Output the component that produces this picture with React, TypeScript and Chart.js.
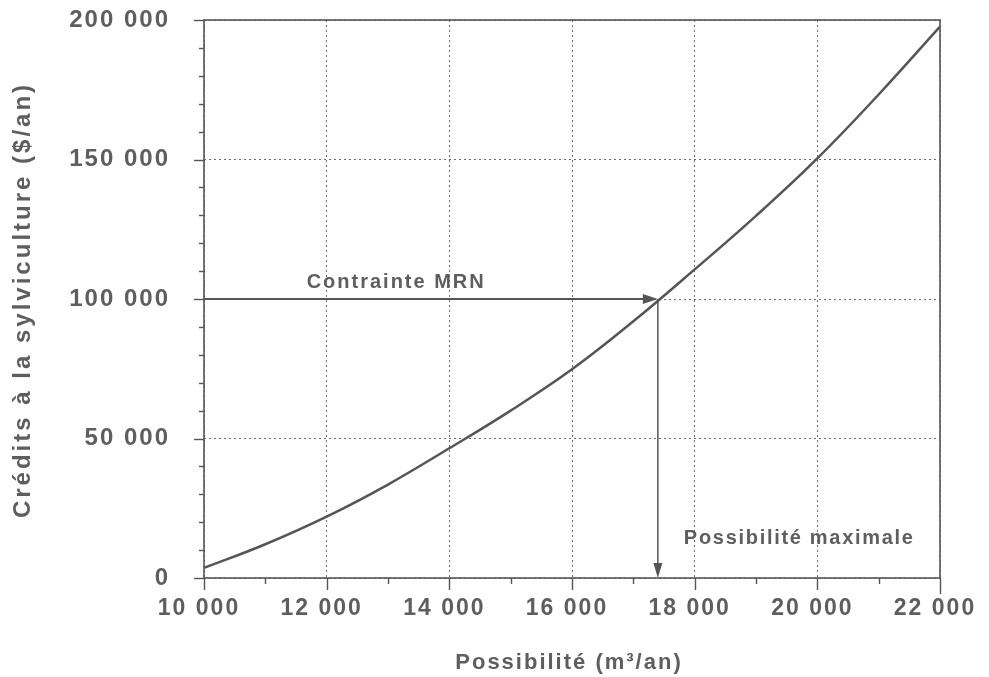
import React, { useEffect, useRef } from "react";
import { Chart, registerables } from "chart.js";

Chart.register(...registerables);

// ---- data ----
const possibilite = [10000, 11000, 12000, 13000, 14000, 15000, 16000, 17000, 18000, 19000, 20000, 21000, 22000];
const credits = [3600, 12100, 22000, 33500, 46500, 60000, 74800, 92000, 110600, 129800, 150400, 173300, 197600];
const xTickLabels = ["10 000", "12 000", "14 000", "16 000", "18 000", "20 000", "22 000"];
const yTickLabels = ["0", "50 000", "100 000", "150 000", "200 000"];
const contrainteMRN = 100000;
const possibiliteMax = 17400;
const xTitle = "Possibilité (m³/an)";
const yTitle = "Crédits à la sylviculture ($/an)";
const labelContrainte = "Contrainte MRN";
const labelMax = "Possibilité maximale";

const INK = "#555555";
const TEXT = "#5e5e5e";
const FONT = "'Liberation Sans', Arial, sans-serif";

const decorPlugin = {
  id: "decor",
  beforeLayout(chart: any) {
    chart.ctx.letterSpacing = "2px";
  },
  beforeDraw(chart: any) {
    chart.ctx.letterSpacing = "2px";
  },
  afterDraw(chart: any) {
    const { ctx, chartArea, scales } = chart;
    const { left, right, top, bottom } = chartArea;
    const x = scales.x;
    const y = scales.y;
    ctx.save();
    ctx.strokeStyle = INK;
    ctx.fillStyle = INK;
    ctx.setLineDash([]);
    // frame
    ctx.lineWidth = 1.6;
    ctx.strokeRect(left, top, right - left, bottom - top);
    // y ticks (major + minor)
    ctx.lineWidth = 1.4;
    for (let v = y.min; v <= y.max; v += 10000) {
      const py = Math.round(y.getPixelForValue(v)) + 0.5;
      const len = v % 50000 === 0 ? 10 : 5;
      ctx.beginPath();
      ctx.moveTo(left - len, py);
      ctx.lineTo(left, py);
      ctx.stroke();
    }
    // x ticks (major + minor)
    for (let v = x.min; v <= x.max; v += 1000) {
      const px = Math.round(x.getPixelForValue(v)) + 0.5;
      const len = v % 2000 === 0 ? (v === x.max ? 16 : 12) : 6;
      ctx.beginPath();
      ctx.moveTo(px, bottom);
      ctx.lineTo(px, bottom + len);
      ctx.stroke();
    }
    // arrows
    const ax0 = x.getPixelForValue(x.min);
    const ax1 = x.getPixelForValue(possibiliteMax);
    const ay = y.getPixelForValue(contrainteMRN);
    const ay1 = y.getPixelForValue(0);
    ctx.lineWidth = 2;
    ctx.beginPath();
    ctx.moveTo(ax0, ay);
    ctx.lineTo(ax1 - 12, ay);
    ctx.stroke();
    ctx.beginPath();
    ctx.moveTo(ax1, ay);
    ctx.lineTo(ax1 - 15, ay - 5);
    ctx.lineTo(ax1 - 15, ay + 5);
    ctx.closePath();
    ctx.fill();
    ctx.lineWidth = 1.5;
    ctx.beginPath();
    ctx.moveTo(ax1, ay);
    ctx.lineTo(ax1, ay1 - 12);
    ctx.stroke();
    ctx.beginPath();
    ctx.moveTo(ax1, ay1);
    ctx.lineTo(ax1 - 4.5, ay1 - 15);
    ctx.lineTo(ax1 + 4.5, ay1 - 15);
    ctx.closePath();
    ctx.fill();
    // annotation texts
    ctx.fillStyle = TEXT;
    ctx.font = `bold 20px ${FONT}`;
    ctx.textBaseline = "middle";
    ctx.letterSpacing = "2px";
    ctx.textAlign = "center";
    ctx.fillText(labelContrainte, x.getPixelForValue(13150) - 1, ay - 17);
    ctx.letterSpacing = "1.7px";
    ctx.textAlign = "left";
    ctx.fillText(labelMax, ax1 + 26, ay1 - 40);
    // axis titles
    ctx.font = `bold 22px ${FONT}`;
    ctx.letterSpacing = "2px";
    ctx.textAlign = "center";
    ctx.fillText(xTitle, (left + right) / 2 - 3, 663);
    ctx.save();
    ctx.translate(23, (top + bottom) / 2 + 1);
    ctx.rotate(-Math.PI / 2);
    ctx.font = `bold 24px ${FONT}`;
    ctx.letterSpacing = "3px";
    ctx.fillText(yTitle, 0, 0);
    ctx.restore();
    ctx.restore();
  },
};

export default function App() {
  const ref = useRef<HTMLCanvasElement | null>(null);
  useEffect(() => {
    if (!ref.current) return;
    const chart = new Chart(ref.current, {
      type: "scatter",
      data: {
        datasets: [
          {
            data: possibilite.map((p, i) => ({ x: p, y: credits[i] })),
            showLine: true,
            borderColor: INK,
            borderWidth: 2.5,
            pointRadius: 0,
            tension: 0.4,
          },
        ],
      },
      options: {
        animation: false,
        responsive: false,
        layout: { padding: { top: 20, right: 49, left: 0, bottom: 0 } },
        plugins: { legend: { display: false }, tooltip: { enabled: false }, title: { display: false } },
        scales: {
          x: {
            type: "linear",
            min: 10000,
            max: 22000,
            afterFit: (s: any) => {
              s.height = 99;
              s.paddingLeft = 0;
              s.paddingRight = 0;
            },
            ticks: {
              stepSize: 2000,
              color: TEXT,
              font: { family: FONT, size: 23, weight: "bold" },
              padding: 17,
              labelOffset: -5,
              maxRotation: 0,
              autoSkip: false,
              callback: (v: any) => xTickLabels[Math.round((Number(v) - 10000) / 2000)] ?? "",
            },
            grid: { color: "#6a6a6a", lineWidth: 1, drawTicks: false, borderDash: [2, 3] },
            border: { display: false, dash: [2, 3] },
          },
          y: {
            type: "linear",
            min: 0,
            max: 200000,
            afterFit: (s: any) => {
              s.width = 204;
              s.paddingTop = 0;
              s.paddingBottom = 0;
            },
            ticks: {
              stepSize: 50000,
              color: TEXT,
              font: { family: FONT, size: 24, weight: "bold" },
              padding: 34,
              autoSkip: false,
              callback: (v: any) => yTickLabels[Math.round(Number(v) / 50000)] ?? "",
            },
            grid: { color: "#6a6a6a", lineWidth: 1, drawTicks: false, borderDash: [2, 3] },
            border: { display: false, dash: [2, 3] },
          },
        },
      },
      plugins: [decorPlugin],
    } as any);
    return () => chart.destroy();
  }, []);
  return (
    <div style={{ position: "absolute", left: 0, top: 0, width: 989, height: 677, background: "#fff" }}>
      <canvas ref={ref} width={989} height={677} />
    </div>
  );
}
